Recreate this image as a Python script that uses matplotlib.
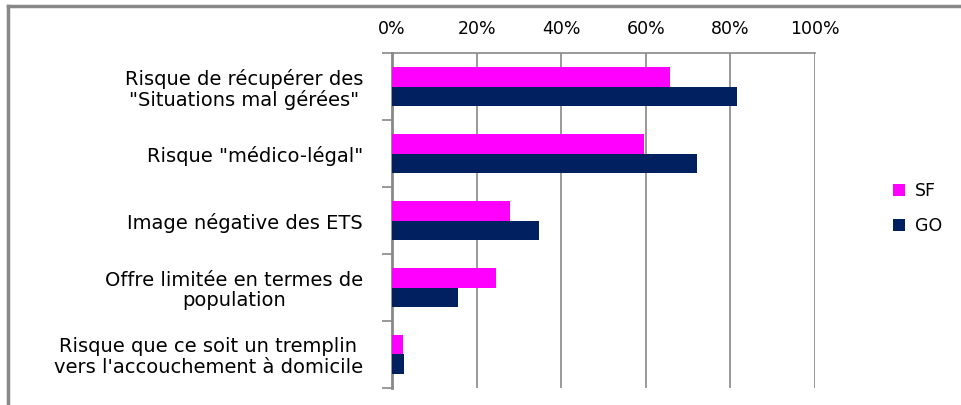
import numpy as np
import matplotlib.pyplot as plt
from matplotlib.lines import Line2D

categories = [
    'Risque de récupérer des\n"Situations mal gérées"',
    'Risque "médico-légal"',
    'Image négative des ETS',
    'Offre limitée en termes de\npopulation',
    "Risque que ce soit un tremplin\nvers l'accouchement à domicile",
]
sf = [65.7, 59.6, 27.9, 24.5, 2.6]
go = [81.6, 72.1, 34.8, 15.6, 2.8]
xticks = [0, 20, 40, 60, 80, 100]

plt.rcParams['font.family'] = ['DejaVu Sans']

fig = plt.figure(figsize=(9.61, 4.05), dpi=100)
ax = fig.add_axes([0.408, 0.042, 0.44, 0.827])

y = np.arange(len(categories))
h = 0.285
ax.barh(y - h / 2, sf, height=h, color='#FF00FF', label='SF', zorder=3)
ax.barh(y + h / 2, go, height=h, color='#002060', label='GO', zorder=3)

ax.set_xlim(0, 100)
ax.set_ylim(len(categories) - 0.5, -0.5)
ax.xaxis.tick_top()
ax.set_xticks(xticks)
ax.set_xticklabels([f'{v}%' for v in xticks], fontsize=12.5)
ax.tick_params(axis='x', length=0, pad=11)
ax.grid(axis='x', color='#888888', linewidth=1.2, zorder=0)

ax.set_yticks(y)
ax.set_yticklabels(categories, fontsize=14, multialignment='center',
                   linespacing=1.07)
ax.set_yticks(np.arange(len(categories) + 1) - 0.5, minor=True)
ax.tick_params(axis='y', which='major', length=0, pad=21)
ax.tick_params(axis='y', which='minor', length=7, width=1.2, color='#888888')

for s in ['right', 'bottom']:
    ax.spines[s].set_visible(False)
ax.spines['left'].set_color('#888888')
ax.spines['left'].set_linewidth(2)
ax.spines['top'].set_color('#888888')
ax.spines['top'].set_linewidth(1.2)

ax.legend(loc='center left', bbox_to_anchor=(1.147, 0.535), frameon=False,
          fontsize=12.5, handlelength=0.7, handleheight=0.7, labelspacing=1.0,
          handletextpad=0.6)

# outer chart frame (top and left edges)
fig.add_artist(Line2D([0.008, 1.0], [0.986, 0.986], color='#888888', linewidth=2.5))
fig.add_artist(Line2D([0.008, 0.008], [0.0, 0.986], color='#888888', linewidth=2.5))

fig.savefig('out.png', dpi=100, facecolor='white')
